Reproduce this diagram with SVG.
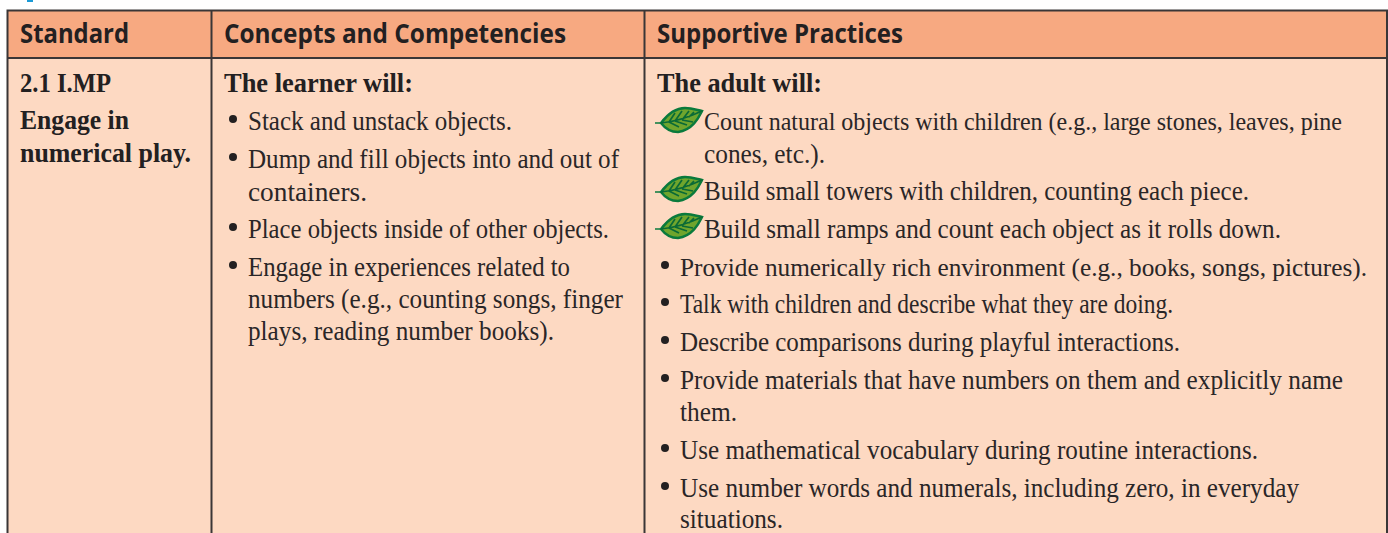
<svg xmlns="http://www.w3.org/2000/svg" xmlns:xlink="http://www.w3.org/1999/xlink" width="1388" height="533" viewBox="0 0 1388 533">
<style>
.h{font:700 26px "Open Sans","Noto Sans",sans-serif;fill:#232021}
.b{font:bold 27px "Liberation Serif",serif;fill:#232021}
.t{font:27px "Liberation Serif",serif;fill:#2a2627}
.s{font:26px "Liberation Serif",serif;fill:#2a2627}
.r{font:25.500px "Liberation Serif",serif;fill:#2a2627}
.g{fill:none;stroke:#3a3637;stroke-width:2}
</style>
<defs>
<g id="leaf">
<path d="M0 0H7" stroke="#0a7a3c" stroke-width="1.5" fill="none"/>
<path d="M6 0C12-8 20-15 30-15C37-15 42-13 47-12C44-6 38 7 23 9C15 9 9 4 6 0Z" fill="#6fa52d" stroke="#0a7a3c" stroke-width="2.4"/>
<path d="M6 0C18-1 32-5 47-12M14-1L20-10M20-2L27-12M27-3L34-12M34-6L39-11M14-1L24 4M20-2L32 2M27-3L38-1" stroke="#0a6a36" stroke-width="1.7" fill="none"/>
</g>
</defs>
<rect width="1388" height="533" fill="#fff"/>
<rect x="27" y="0" width="6" height="2" fill="#1b9ad6"/>
<g id="table">
<rect x="8" y="11" width="1379" height="47" fill="#f7a981"/>
<rect x="8" y="58" width="1379" height="475" fill="#fdd9c2"/>
<path class="g" d="M7.500 533V10.500H1387V533M8 58H1387M211.500 11V533M644.500 11V533"/>
</g>
<g id="header">
<text class="h" x="20" y="43" textLength="109" lengthAdjust="spacingAndGlyphs">Standard</text>
<text class="h" x="224" y="43" textLength="342" lengthAdjust="spacingAndGlyphs">Concepts and Competencies</text>
<text class="h" x="657" y="43" textLength="246" lengthAdjust="spacingAndGlyphs">Supportive Practices</text>
</g>
<g id="standard">
<text class="b" x="20" y="92" textLength="91" lengthAdjust="spacingAndGlyphs">2.1 I.MP</text>
<text class="b" x="20" y="129" textLength="109" lengthAdjust="spacingAndGlyphs">Engage in</text>
<text class="b" x="20" y="162" textLength="171" lengthAdjust="spacingAndGlyphs">numerical play.</text>
</g>
<g id="concepts">
<text class="b" x="224" y="92" textLength="189" lengthAdjust="spacingAndGlyphs">The learner will:</text>
<circle cx="233" cy="119" r="4" fill="#232021"/>
<text class="t" x="248" y="130" textLength="264" lengthAdjust="spacingAndGlyphs">Stack and unstack objects.</text>
<circle cx="233" cy="157" r="4" fill="#232021"/>
<text class="t" x="248" y="168" textLength="371" lengthAdjust="spacingAndGlyphs">Dump and fill objects into and out of</text>
<text class="t" x="248" y="201" textLength="119" lengthAdjust="spacingAndGlyphs">containers.</text>
<circle cx="233" cy="227" r="4" fill="#232021"/>
<text class="t" x="248" y="238" textLength="361" lengthAdjust="spacingAndGlyphs">Place objects inside of other objects.</text>
<circle cx="233" cy="265" r="4" fill="#232021"/>
<text class="t" x="248" y="276" textLength="322" lengthAdjust="spacingAndGlyphs">Engage in experiences related to</text>
<text class="t" x="248" y="308" textLength="375" lengthAdjust="spacingAndGlyphs">numbers (e.g., counting songs, finger</text>
<text class="t" x="248" y="340" textLength="306" lengthAdjust="spacingAndGlyphs">plays, reading number books).</text>
</g>
<g id="practices">
<text class="b" x="657" y="92" textLength="165" lengthAdjust="spacingAndGlyphs">The adult will:</text>
<use xlink:href="#leaf" href="#leaf" x="655" y="123"/>
<text class="r" x="704" y="130" textLength="638" lengthAdjust="spacingAndGlyphs">Count natural objects with children (e.g., large stones, leaves, pine</text>
<text class="t" x="704" y="163" textLength="121" lengthAdjust="spacingAndGlyphs">cones, etc.).</text>
<use xlink:href="#leaf" href="#leaf" x="655" y="192"/>
<text class="t" x="704" y="200" textLength="545" lengthAdjust="spacingAndGlyphs">Build small towers with children, counting each piece.</text>
<use xlink:href="#leaf" href="#leaf" x="655" y="229"/>
<text class="t" x="704" y="238" textLength="577" lengthAdjust="spacingAndGlyphs">Build small ramps and count each object as it rolls down.</text>
<circle cx="665" cy="265" r="4" fill="#232021"/>
<text class="s" x="680" y="276" textLength="687" lengthAdjust="spacingAndGlyphs">Provide numerically rich environment (e.g., books, songs, pictures).</text>
<circle cx="665" cy="302" r="4" fill="#232021"/>
<text class="t" x="680" y="313" textLength="493" lengthAdjust="spacingAndGlyphs">Talk with children and describe what they are doing.</text>
<circle cx="665" cy="340" r="4" fill="#232021"/>
<text class="t" x="680" y="351" textLength="500" lengthAdjust="spacingAndGlyphs">Describe comparisons during playful interactions.</text>
<circle cx="665" cy="378" r="4" fill="#232021"/>
<text class="t" x="680" y="389" textLength="663" lengthAdjust="spacingAndGlyphs">Provide materials that have numbers on them and explicitly name</text>
<text class="t" x="680" y="421" textLength="57" lengthAdjust="spacingAndGlyphs">them.</text>
<circle cx="665" cy="448" r="4" fill="#232021"/>
<text class="t" x="680" y="459" textLength="578" lengthAdjust="spacingAndGlyphs">Use mathematical vocabulary during routine interactions.</text>
<circle cx="665" cy="486" r="4" fill="#232021"/>
<text class="t" x="680" y="497" textLength="619" lengthAdjust="spacingAndGlyphs">Use number words and numerals, including zero, in everyday</text>
<text class="t" x="680" y="528" textLength="103" lengthAdjust="spacingAndGlyphs">situations.</text>
</g>
</svg>
